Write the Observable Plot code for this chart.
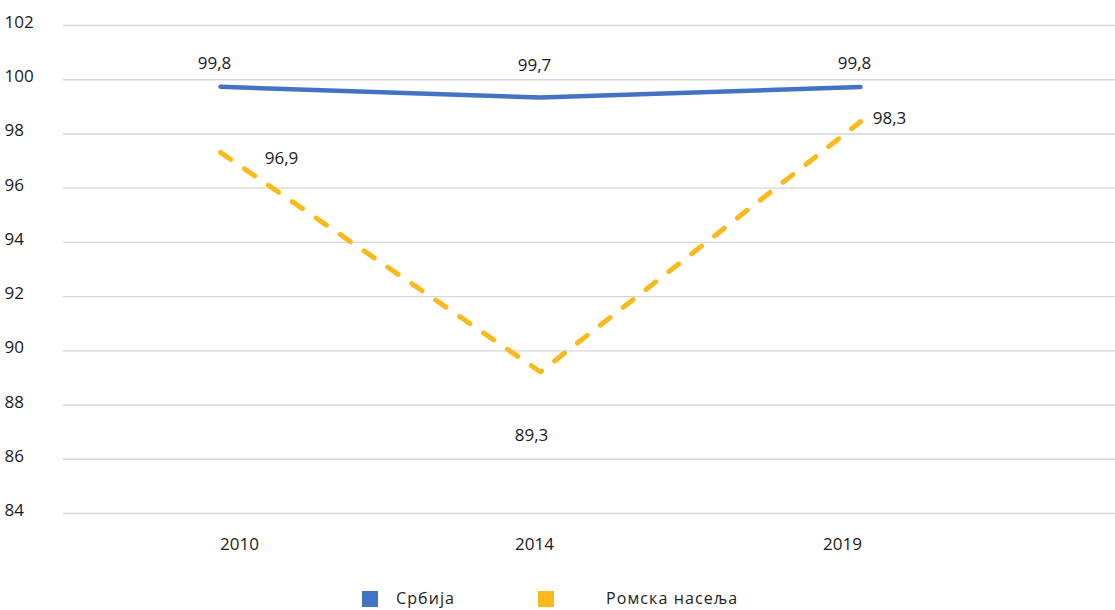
<!DOCTYPE html>
<html>
<head>
<meta charset="utf-8">
<script src="https://cdn.jsdelivr.net/npm/d3@7"></script>
<script src="https://cdn.jsdelivr.net/npm/@observablehq/plot@0.6"></script>
<style>
  html, body { margin: 0; padding: 0; background: #fff; overflow: hidden; }
  #wrap { position: relative; width: 1115px; height: 610px; font-family: "Open Sans", sans-serif; }
  #legend { position: absolute; left: 0; top: 586px; width: 1115px; height: 24px; font-size: 16px; line-height: 20px; color: #222; letter-spacing: 1.1px; }
  .item { position: absolute; top: 0; display: flex; align-items: center; }
  .sw { width: 16px; height: 16px; display: inline-block; }
</style>
</head>
<body>
<div id="wrap">
  <div id="chart"></div>
  <div id="legend"></div>
</div>
<script>
// ---- data ----
const years = ["2010", "2014", "2019"];
const serbiaValues = [99.74, 99.34, 99.73];   // line as drawn
const romaValues = [97.32, 89.22, 98.45];     // line as drawn
const serbiaLabels = ["99,8", "99,7", "99,8"];
const romaLabels = ["96,9", "89,3", "98,3"];
const yTicks = [84, 86, 88, 90, 92, 94, 96, 98, 100, 102];
const seriesNames = ["Србија", "Ромска насеља"];
const seriesColors = ["#4472C4", "#FBBA1C"];

const num = s => parseFloat(s.replace(",", "."));
const serbia = years.map((y, i) => ({year: y, value: serbiaValues[i], label: serbiaLabels[i], lv: num(serbiaLabels[i])}));
const roma = years.map((y, i) => ({year: y, value: romaValues[i], label: romaLabels[i], lv: num(romaLabels[i])}));

const txt = "#1a1a1a";
const fs = 17;

const chart = Plot.plot({
  width: 1115,
  height: 570,
  marginLeft: 63,
  marginRight: 0,
  marginTop: 25,
  marginBottom: 57,
  style: {fontFamily: "Open Sans", fontSize: "17px", color: txt, background: "#fff"},
  x: {type: "point", domain: years, padding: 0, insetLeft: 156, insetRight: 255},
  y: {domain: [84, 102]},
  marks: [
    Plot.gridY(yTicks, {stroke: "#d6d6d6", strokeOpacity: 1, strokeWidth: 1.4}),
    Plot.axisY(yTicks, {tickSize: 0, textAnchor: "start", dx: -50, dy: -3, fontSize: fs, fill: txt, label: null}),
    Plot.axisX({ticks: [years[0]], tickSize: 0, tickPadding: 24, dx: 19, fontSize: fs, fill: txt, label: null}),
    Plot.axisX({ticks: [years[1]], tickSize: 0, tickPadding: 24, dx: -6, fontSize: fs, fill: txt, label: null}),
    Plot.axisX({ticks: [years[2]], tickSize: 0, tickPadding: 24, dx: -18, fontSize: fs, fill: txt, label: null}),
    Plot.line(serbia, {x: "year", y: "value", stroke: seriesColors[0], strokeWidth: 4.5, strokeLinecap: "round", strokeLinejoin: "round"}),
    Plot.line(roma, {x: "year", y: "value", stroke: seriesColors[1], strokeWidth: 5, strokeLinecap: "round", strokeLinejoin: "round", strokeDasharray: "12.5,16.5"}),
    Plot.text(serbia, {x: "year", y: "lv", text: "label", dx: -6, dy: -22, fontSize: fs, fill: txt}),
    Plot.text([roma[0]], {x: "year", y: "lv", text: "label", dx: 61, dy: -5, fontSize: fs, fill: txt}),
    Plot.text([roma[1]], {x: "year", y: "lv", text: "label", dx: -9, dy: 66, fontSize: fs, fill: txt}),
    Plot.text([roma[2]], {x: "year", y: "lv", text: "label", dx: 29, dy: -7, fontSize: fs, fill: txt})
  ]
});
document.getElementById("chart").appendChild(chart);

// legend
const legend = document.getElementById("legend");
const pos = [[362, 396], [538, 606]];
seriesNames.forEach((name, i) => {
  const sw = document.createElement("div");
  sw.className = "item";
  sw.style.left = pos[i][0] + "px";
  sw.style.top = "5px";
  sw.innerHTML = `<span class="sw" style="background:${seriesColors[i]}"></span>`;
  legend.appendChild(sw);
  const t = document.createElement("div");
  t.className = "item";
  t.style.left = pos[i][1] + "px";
  t.style.top = "2px";
  t.textContent = name;
  legend.appendChild(t);
});
</script>
</body>
</html>
